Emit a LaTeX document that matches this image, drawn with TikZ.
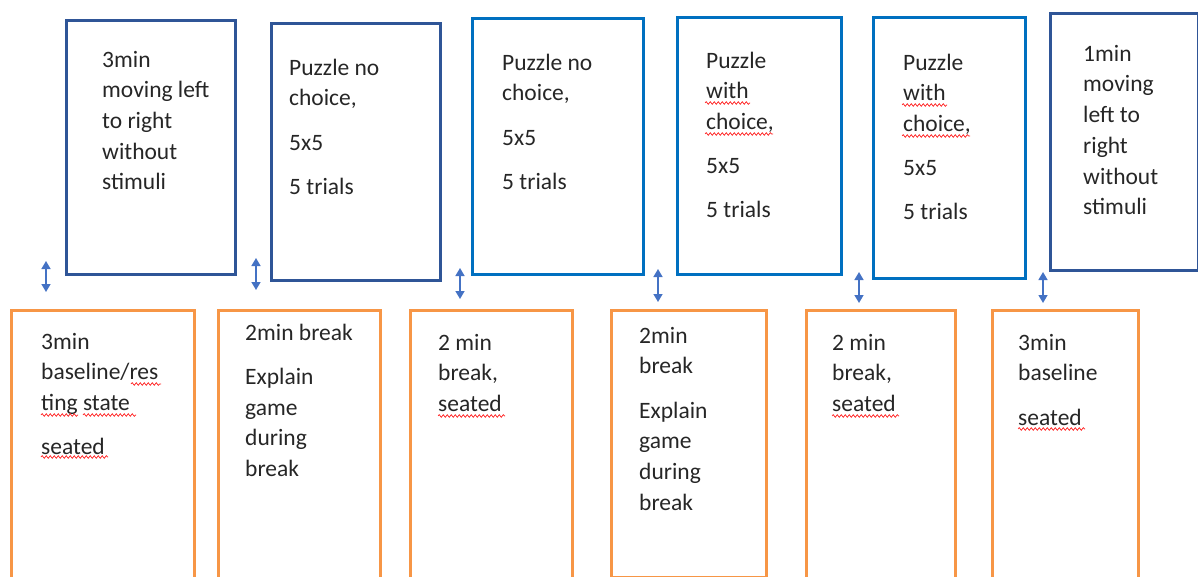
\documentclass[tikz,border=0pt]{standalone}
\usepackage{fontspec}
\setmainfont{Carlito}
\usetikzlibrary{arrows.meta,decorations.pathmorphing}
\definecolor{darkblue}{HTML}{2F5597}
\definecolor{brightblue}{HTML}{0070C0}
\definecolor{boxorange}{HTML}{F79646}
\definecolor{arrowblue}{HTML}{4472C4}
\definecolor{squigred}{HTML}{FF2020}
\newcommand\firstln{\rule{0pt}{20pt}}
\begin{document}
\begin{tikzpicture}[x=1pt,y=-1pt,
  topdark/.style={draw=darkblue,line width=2.6pt,anchor=north west,inner sep=0pt},
  topbright/.style={draw=brightblue,line width=2.6pt,anchor=north west,inner sep=0pt},
  botbox/.style={draw=boxorange,line width=2.6pt,anchor=north west,inner sep=0pt},
  boxtext/.style={anchor=north west,inner sep=0pt,align=left,font=\fontsize{23.5}{30.7}\selectfont,text=black!85},
  link/.style={draw=arrowblue,line width=1.5pt,{Triangle[length=8pt,width=9pt]}-{Triangle[length=8pt,width=9pt]}},
  squiggle/.style={draw=squigred,line width=0.7pt,decorate,decoration={snake,segment length=4pt,amplitude=1.3pt}}]
\useasboundingbox (0,0) rectangle (1198,577);
\clip (0,0) rectangle (1198,577);

% top boxes
\node[topdark,minimum width=169pt,minimum height=254pt] (t1) at (65,19) {};
\node[topdark,minimum width=169pt,minimum height=257pt] (t2) at (270,22) {};
\node[topbright,minimum width=171pt,minimum height=256pt] (t3) at (471,17) {};
\node[topbright,minimum width=164pt,minimum height=257pt] (t4) at (676,16) {};
\node[topbright,minimum width=152pt,minimum height=261pt] (t5) at (872,16) {};
\node[topdark,minimum width=148pt,minimum height=257pt] (t6) at (1049,12) {};

% bottom boxes
\node[botbox,minimum width=183pt,minimum height=290pt] (b1) at (10,309) {};
\node[botbox,minimum width=162pt,minimum height=290pt] (b2) at (217,309) {};
\node[botbox,minimum width=162pt,minimum height=290pt] (b3) at (409,309) {};
\node[botbox,minimum width=155pt,minimum height=267pt] (b4) at (610,309) {};
\node[botbox,minimum width=149pt,minimum height=290pt] (b5) at (805,309) {};
\node[botbox,minimum width=146pt,minimum height=290pt] (b6) at (991,309) {};

% texts
\node[boxtext] (t1x) at (102,47) {\firstln 3min\\moving left\\to right\\without\\stimuli};
\node[boxtext] (t2x) at (289,55) {\firstln Puzzle no\\choice,\\[13.5pt]5x5\\[13.5pt]5 trials};
\node[boxtext] (t3x) at (502,50) {\firstln Puzzle no\\choice,\\[13.5pt]5x5\\[13.5pt]5 trials};
\node[boxtext] (t4x) at (706,48) {\firstln Puzzle\\with\\choice,\\[13.5pt]5x5\\[13.5pt]5 trials};
\node[boxtext] (t5x) at (903,50) {\firstln Puzzle\\with\\choice,\\[13.5pt]5x5\\[13.5pt]5 trials};
\node[boxtext] (t6x) at (1083,41) {\firstln 1min\\moving\\left to\\right\\without\\stimuli};

\node[boxtext] (b1x) at (41,329) {\firstln 3min\\baseline/res\\ting state\\[13.5pt]seated};
\node[boxtext] (b2x) at (245,320) {\firstln 2min break\\[13.5pt]Explain\\game\\during\\break};
\node[boxtext] (b3x) at (438,330) {\firstln 2 min\\break,\\seated};
\node[boxtext] (b4x) at (639,323) {\firstln 2min\\break\\[13.5pt]Explain\\game\\during\\break};
\node[boxtext] (b5x) at (832,330) {\firstln 2 min\\break,\\seated};
\node[boxtext] (b6x) at (1018,330) {\firstln 3min\\baseline\\[13.5pt]seated};

% arrows
\coordinate (a1s) at (46,261);   \coordinate (a1e) at (46,292);
\coordinate (a2s) at (256,258);  \coordinate (a2e) at (256,290);
\coordinate (a3s) at (460,268);  \coordinate (a3e) at (460,299);
\coordinate (a4s) at (658,269);  \coordinate (a4e) at (658,302);
\coordinate (a5s) at (859,272);  \coordinate (a5e) at (859,303);
\coordinate (a6s) at (1043,272); \coordinate (a6e) at (1043,303);
\draw[link] (a1s) -- (a1e);
\draw[link] (a2s) -- (a2e);
\draw[link] (a3s) -- (a3e);
\draw[link] (a4s) -- (a4e);
\draw[link] (a5s) -- (a5e);
\draw[link] (a6s) -- (a6e);

% spelling squiggles
\draw[squiggle] (705,103) -- (750,103);
\draw[squiggle] (705,134) -- (773,134);
\draw[squiggle] (902,105) -- (947,105);
\draw[squiggle] (902,136) -- (970,136);
\draw[squiggle] (131,384) -- (161,384);
\draw[squiggle] (41,415) -- (78,415);
\draw[squiggle] (83,415) -- (136,415);
\draw[squiggle] (41,457) -- (108,457);
\draw[squiggle] (438,416) -- (505,416);
\draw[squiggle] (832,416) -- (899,416);
\draw[squiggle] (1018,429) -- (1085,429);
\end{tikzpicture}
\end{document}
